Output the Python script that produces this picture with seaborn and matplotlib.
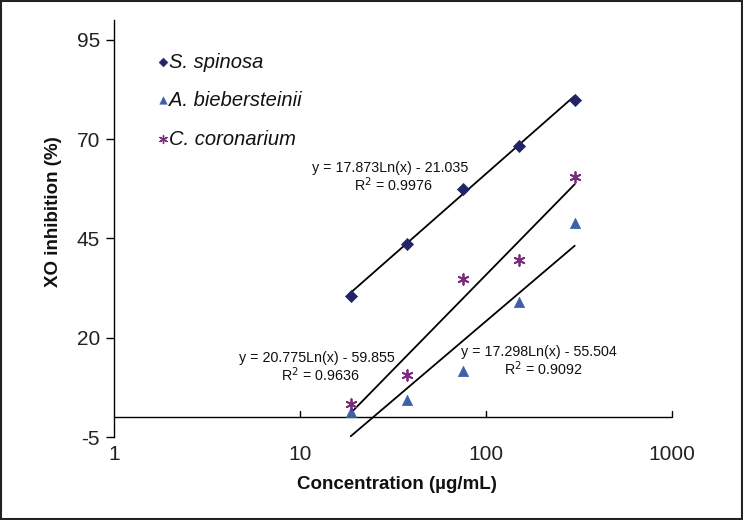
import numpy as np
import pandas as pd
import matplotlib
matplotlib.use("Agg")
import matplotlib.pyplot as plt
import seaborn as sns
from matplotlib.patches import Rectangle

# ---- data ----
conc = [18.75, 37.5, 75, 150, 300]
s_spinosa = [30.5, 43.5, 57.5, 68.3, 79.9]
a_bieb = [1.3, 4.3, 11.5, 29.1, 48.9]
c_coron = [3.2, 10.5, 34.9, 39.5, 60.4]
species = ["S. spinosa", "A. biebersteinii", "C. coronarium"]
slopes = [17.873, 17.298, 20.775]
intercepts = [-21.035, -55.504, -59.855]
r2 = [0.9976, 0.9092, 0.9636]
yticks = [-5, 20, 45, 70, 95]
xticks = [1, 10, 100, 1000]

colors = {"S. spinosa": "#23236b", "A. biebersteinii": "#3f5fa8", "C. coronarium": "#7b2d7d"}
markers = {"S. spinosa": "D", "A. biebersteinii": "^", "C. coronarium": (6, 2, 0)}
msizes = {"S. spinosa": 38, "A. biebersteinii": 55, "C. coronarium": 60}

df = pd.DataFrame({
    "conc": conc * 3,
    "val": s_spinosa + a_bieb + c_coron,
    "species": sum([[s] * len(conc) for s in species], []),
})

sns.set_style("white")
plt.rcParams["font.family"] = ["Liberation Sans", "DejaVu Sans"]

fig = plt.figure(figsize=(7.43, 5.20), dpi=100)
ax = fig.add_axes([0.1534, 0.1596, 0.751, 0.802])

for sp in species:
    sub = df[df.species == sp]
    sns.scatterplot(data=sub, x="conc", y="val", ax=ax, color=colors[sp],
                    marker=markers[sp], s=msizes[sp], edgecolor=colors[sp],
                    linewidth=1.3 if sp == "C. coronarium" else 0.5, legend=False, zorder=3)

# trend lines from coefficients
xs = np.linspace(min(conc), max(conc), 50)
for sl, ic in zip(slopes, intercepts):
    ax.plot(xs, sl * np.log(xs) + ic, color="black", lw=1.3, zorder=2)

ax.set_xscale("log")
ax.set_xlim(1, 1000)
ax.set_ylim(-5, 100)
ax.set_xticks(xticks)
ax.set_xticklabels([str(t) for t in xticks])
ax.set_yticks(yticks)
ax.set_yticklabels([str(t) for t in yticks])
ax.minorticks_off()

for s in ["top", "right", "bottom"]:
    ax.spines[s].set_visible(False)
ax.spines["left"].set_color("black")
ax.spines["left"].set_linewidth(1.0)
ax.axhline(0, color="black", lw=1.0, zorder=1)
for t in xticks[1:]:
    ax.plot([t, t], [0, 1.6], color="black", lw=1.0, clip_on=False)

ax.tick_params(axis="y", direction="out", length=6, width=1, color="black",
               labelsize=15, pad=4, left=True)
ax.tick_params(axis="x", length=0, labelsize=15, pad=6)
for lab in ax.get_xticklabels() + ax.get_yticklabels():
    lab.set_color("#222222")

ax.set_xlabel("Concentration (µg/mL)", fontsize=13.5, fontweight="bold", color="#111111")
ax.set_ylabel("XO inhibition (%)", fontsize=13.5, fontweight="bold", color="#111111")
ax.xaxis.set_label_coords(0.508, -0.094)
ax.yaxis.set_label_coords(-0.093, 0.54)

# legend (manual)
leg_y = [89.4, 79.8, 70.0]
for sp, yy in zip(species, leg_y):
    ax.scatter([1.84], [yy], marker=markers[sp], color=colors[sp],
               s=msizes[sp] * 0.55, linewidths=1.0 if sp == "C. coronarium" else 0.3,
               edgecolor=colors[sp], clip_on=False)
    ax.text(1.98, yy, sp, fontsize=14.5, style="italic", color="#111111",
            va="center", ha="left")

# equations
eq_pos = [(390, 168), (539, 352), (317, 358)]
for (px, py), sl, ic, r in zip(eq_pos, slopes, intercepts, r2):
    fig.text(px / 743, 1 - py / 520, f"y = {sl:.3f}Ln(x) - {abs(ic):.3f}",
             fontsize=10.3, ha="center", va="center", color="#111111")
    fig.text(px / 743 + 0.005, 1 - (py + 17) / 520, f"R$^2$ = {r:.4f}",
             fontsize=10.3, ha="center", va="center", color="#111111")

fig.patches.append(Rectangle((0.001, 0.002), 0.997, 0.996, transform=fig.transFigure,
                             fill=False, edgecolor="#222222", lw=1.5))

fig.savefig("out.png", dpi=100)
